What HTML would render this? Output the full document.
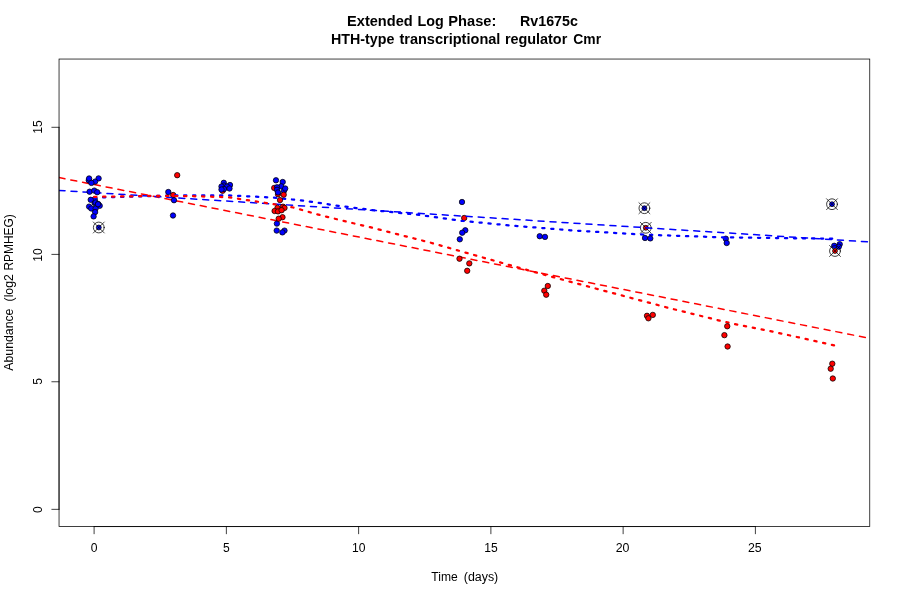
<!DOCTYPE html>
<html><head><meta charset="utf-8"><title>Extended Log Phase: Rv1675c</title>
<style>
html,body{margin:0;padding:0;background:#fff;}
body{width:900px;height:600px;overflow:hidden;}
svg{display:block;font-family:"Liberation Sans",Arial,Helvetica,sans-serif;}
.ax{font-size:12px;fill:#000;}
.tt{font-size:14.4px;font-weight:bold;fill:#000;}
.b{fill:#0000ff;stroke:#000;stroke-width:0.75;}
.r{fill:#ff0000;stroke:#000;stroke-width:0.75;}
.ln{fill:none;stroke:#000;stroke-width:0.75;stroke-linecap:round;}
</style></head><body>
<svg width="900" height="600" viewBox="0 0 900 600">
<rect width="900" height="600" fill="#fff"/>

<defs><clipPath id="cp"><rect x="59.04" y="59.04" width="810.72" height="467.5199999999999"/></clipPath></defs>
<g>
<circle class="b" cx="98.8" cy="227.5" r="2.45"/>
<circle class="ln" cx="98.8" cy="227.5" r="5.4"/>
<path class="ln" style="stroke-width:0.7" d="M93.30,222.00L104.30,233.00M93.30,233.00L104.30,222.00"/>
<circle class="b" cx="644.4" cy="208.2" r="2.45"/>
<circle class="ln" cx="644.4" cy="208.2" r="5.4"/>
<path class="ln" style="stroke-width:0.7" d="M638.90,202.70L649.90,213.70M638.90,213.70L649.90,202.70"/>
<circle class="r" cx="645.8" cy="227.8" r="2.45"/>
<circle class="ln" cx="645.8" cy="227.8" r="5.4"/>
<path class="ln" style="stroke-width:0.7" d="M640.30,222.30L651.30,233.30M640.30,233.30L651.30,222.30"/>
<circle class="b" cx="832" cy="204.2" r="2.45"/>
<circle class="ln" cx="832" cy="204.2" r="5.4"/>
<path class="ln" style="stroke-width:0.7" d="M826.50,198.70L837.50,209.70M826.50,209.70L837.50,198.70"/>
<circle class="b" cx="94.6" cy="203" r="2.7"/>
<circle class="b" cx="94.75" cy="199.3" r="2.7"/>
<circle class="b" cx="725.8" cy="238.7" r="2.7"/>
<circle class="r" cx="173.2" cy="195" r="2.7"/>
<circle class="r" cx="464.2" cy="218" r="2.7"/>
</g>
<g clip-path="url(#cp)" fill="none" stroke-linecap="round" stroke-linejoin="round">
<path d="M59.04,177.57L869.76,338.33" stroke="#ff0000" stroke-width="1.5" stroke-dasharray="6 6"/>
<path d="M59.04,190.39L869.76,242.00" stroke="#0000ff" stroke-width="1.5" stroke-dasharray="6 6"/>
<polyline points="94.1,197.6 130.0,196.7 180.0,195.3 228.3,195.4 271.7,197.5 305.0,200.8 338.3,205.8 373.3,210.2 420.0,215.0 461.7,220.8 505.0,225.0 570.0,230.3 645.0,234.7 718.3,237.2 770.0,238.0 832.5,238.7" stroke="#0000ff" stroke-width="2.25" stroke-dasharray="2.25 6.75"/>
<polyline points="94.1,196.9 130.0,196.3 158.0,195.8 197.0,196.3 228.0,197.2 268.3,203.3 293.3,207.5 316.7,214.2 346.7,221.7 370.0,227.2 430.0,242.5 480.0,256.7 530.0,270.8 570.0,281.7 620.0,295.0 670.0,308.3 690.0,313.2 718.3,320.3 735.0,324.2 770.0,331.0 806.7,339.2 834.5,345.4" stroke="#ff0000" stroke-width="2.25" stroke-dasharray="2.25 6.75"/>
</g>
<g>
<circle class="r" cx="274.2" cy="187.9" r="2.7"/>
<circle class="r" cx="278" cy="194.2" r="2.7"/>
<circle class="r" cx="222.6" cy="190.8" r="2.7"/>
<circle class="b" cx="88.75" cy="180.3" r="2.7"/>
<circle class="b" cx="89.1" cy="178.5" r="2.7"/>
<circle class="b" cx="98.6" cy="178.4" r="2.7"/>
<circle class="b" cx="95.1" cy="181.6" r="2.7"/>
<circle class="b" cx="91.4" cy="182.9" r="2.7"/>
<circle class="b" cx="89.6" cy="191.7" r="2.7"/>
<circle class="b" cx="94.3" cy="190.6" r="2.7"/>
<circle class="b" cx="97.2" cy="192.2" r="2.7"/>
<circle class="b" cx="90.7" cy="199.8" r="2.7"/>
<circle class="b" cx="95.6" cy="202.5" r="2.7"/>
<circle class="b" cx="98.3" cy="204.1" r="2.7"/>
<circle class="b" cx="99.7" cy="205.8" r="2.7"/>
<circle class="b" cx="89.1" cy="206.6" r="2.7"/>
<circle class="b" cx="91.3" cy="208.5" r="2.7"/>
<circle class="b" cx="95.6" cy="208.5" r="2.7"/>
<circle class="b" cx="95.1" cy="212.1" r="2.7"/>
<circle class="b" cx="93.6" cy="216.4" r="2.7"/>
<circle class="b" cx="98" cy="204.2" r="2.7"/>
<circle class="b" cx="168.3" cy="192" r="2.7"/>
<circle class="b" cx="174" cy="200.2" r="2.7"/>
<circle class="b" cx="173" cy="215.5" r="2.7"/>
<circle class="b" cx="223.8" cy="182.8" r="2.7"/>
<circle class="b" cx="230" cy="185" r="2.7"/>
<circle class="b" cx="224" cy="185.5" r="2.7"/>
<circle class="b" cx="221.5" cy="186.5" r="2.7"/>
<circle class="b" cx="227" cy="186.5" r="2.7"/>
<circle class="b" cx="229.5" cy="188.5" r="2.7"/>
<circle class="b" cx="224" cy="189" r="2.7"/>
<circle class="b" cx="221.5" cy="189.5" r="2.7"/>
<circle class="b" cx="276" cy="180.3" r="2.7"/>
<circle class="b" cx="282.7" cy="182" r="2.7"/>
<circle class="b" cx="281.2" cy="186.3" r="2.7"/>
<circle class="b" cx="277" cy="187.3" r="2.7"/>
<circle class="b" cx="277" cy="189.8" r="2.7"/>
<circle class="b" cx="284" cy="190.8" r="2.7"/>
<circle class="b" cx="285.2" cy="188.5" r="2.7"/>
<circle class="b" cx="278" cy="192.4" r="2.7"/>
<circle class="b" cx="276.9" cy="223.6" r="2.7"/>
<circle class="b" cx="276.7" cy="230.6" r="2.7"/>
<circle class="b" cx="284.5" cy="230.6" r="2.7"/>
<circle class="b" cx="282.4" cy="232.4" r="2.7"/>
<circle class="b" cx="462" cy="202" r="2.7"/>
<circle class="b" cx="465.3" cy="230.3" r="2.7"/>
<circle class="b" cx="462.2" cy="232.7" r="2.7"/>
<circle class="b" cx="459.8" cy="239.3" r="2.7"/>
<circle class="b" cx="539.7" cy="236.2" r="2.7"/>
<circle class="b" cx="545" cy="236.9" r="2.7"/>
<circle class="b" cx="645" cy="238" r="2.7"/>
<circle class="b" cx="650.3" cy="238.4" r="2.7"/>
<circle class="b" cx="726.7" cy="243" r="2.7"/>
<circle class="b" cx="839.7" cy="244.2" r="2.7"/>
<circle class="b" cx="838.8" cy="246.7" r="2.7"/>
<circle class="b" cx="834.2" cy="245.8" r="2.7"/>
<circle class="r" cx="835" cy="251" r="2.45"/>
<circle class="ln" cx="835" cy="251" r="5.4"/>
<path class="ln" style="stroke-width:0.7" d="M829.50,245.50L840.50,256.50M829.50,256.50L840.50,245.50"/>
<circle class="r" cx="177.2" cy="175.2" r="2.7"/>
<circle class="r" cx="283.7" cy="194.7" r="2.7"/>
<circle class="r" cx="280" cy="200.1" r="2.7"/>
<circle class="r" cx="283" cy="206.7" r="2.7"/>
<circle class="r" cx="284.5" cy="207.9" r="2.7"/>
<circle class="r" cx="277.5" cy="207.9" r="2.7"/>
<circle class="r" cx="274.6" cy="211" r="2.7"/>
<circle class="r" cx="278" cy="211.4" r="2.7"/>
<circle class="r" cx="281.6" cy="210.2" r="2.7"/>
<circle class="r" cx="282.5" cy="217.2" r="2.7"/>
<circle class="r" cx="278.7" cy="218.7" r="2.7"/>
<circle class="r" cx="459.5" cy="258.7" r="2.7"/>
<circle class="r" cx="469.3" cy="263.4" r="2.7"/>
<circle class="r" cx="467.2" cy="270.8" r="2.7"/>
<circle class="r" cx="547.8" cy="286" r="2.7"/>
<circle class="r" cx="544.3" cy="290.7" r="2.7"/>
<circle class="r" cx="546.2" cy="294.7" r="2.7"/>
<circle class="r" cx="652.8" cy="314.9" r="2.7"/>
<circle class="r" cx="647" cy="315.8" r="2.7"/>
<circle class="r" cx="648.4" cy="318.3" r="2.7"/>
<circle class="r" cx="727.25" cy="326.25" r="2.7"/>
<circle class="r" cx="724.4" cy="335.15" r="2.7"/>
<circle class="r" cx="727.6" cy="346.5" r="2.7"/>
<circle class="r" cx="832.3" cy="363.7" r="2.7"/>
<circle class="r" cx="830.7" cy="368.7" r="2.7"/>
<circle class="r" cx="832.8" cy="378.5" r="2.7"/>
</g>
<g class="ln">
<path d="M94.10,526.56L755.40,526.56"/>
<path d="M94.10,526.56L94.10,533.76"/>
<path d="M226.36,526.56L226.36,533.76"/>
<path d="M358.62,526.56L358.62,533.76"/>
<path d="M490.88,526.56L490.88,533.76"/>
<path d="M623.14,526.56L623.14,533.76"/>
<path d="M755.40,526.56L755.40,533.76"/>
<path d="M59.04,509.35L59.04,127.30"/>
<path d="M59.04,509.35L51.84,509.35"/>
<path d="M59.04,381.75L51.84,381.75"/>
<path d="M59.04,254.40L51.84,254.40"/>
<path d="M59.04,127.30L51.84,127.30"/>
<rect x="59.04" y="59.04" width="810.72" height="467.52"/>
</g>
<text class="ax" transform="translate(94.20,551.8) scale(1.01,1.035)" text-anchor="middle">0</text>
<text class="ax" transform="translate(226.46,551.8) scale(1.01,1.035)" text-anchor="middle">5</text>
<text class="ax" transform="translate(358.72,551.8) scale(1.01,1.035)" text-anchor="middle">10</text>
<text class="ax" transform="translate(490.98,551.8) scale(1.01,1.035)" text-anchor="middle">15</text>
<text class="ax" transform="translate(622.54,551.8) scale(1.03,1.035)" text-anchor="middle">20</text>
<text class="ax" transform="translate(754.80,551.8) scale(1.03,1.035)" text-anchor="middle">25</text>
<text class="ax" transform="translate(41.9,509.70) rotate(-90) scale(1.01,1.035)" text-anchor="middle">0</text>
<text class="ax" transform="translate(41.9,381.40) rotate(-90) scale(1.01,1.035)" text-anchor="middle">5</text>
<text class="ax" transform="translate(41.9,254.90) rotate(-90) scale(1.01,1.035)" text-anchor="middle">10</text>
<text class="ax" transform="translate(41.9,127.00) rotate(-90) scale(1.01,1.035)" text-anchor="middle">15</text>
<text class="ax" transform="translate(431.30,580.9) scale(1.0078,1.035)">Time</text>
<text class="ax" transform="translate(463.78,580.9) scale(1.0345,1.035)">(days)</text>
<text class="ax" transform="translate(12.9,370.70) rotate(-90) scale(1.0249,1.035)">Abundance</text>
<text class="ax" transform="translate(12.9,301.41) rotate(-90) scale(1.0197,1.035)">(log2</text>
<text class="ax" transform="translate(12.9,270.60) rotate(-90) scale(0.9946,1.035)">RPMHEG)</text>
<text class="tt" transform="translate(347.09,25.7) scale(1.0127,1.035)">Extended</text>
<text class="tt" transform="translate(417.40,25.7) scale(0.9959,1.035)">Log</text>
<text class="tt" transform="translate(448.28,25.7) scale(1.0178,1.035)">Phase:</text>
<text class="tt" transform="translate(520.01,25.7) scale(0.9895,1.035)">Rv1675c</text>
<text class="tt" transform="translate(330.91,43.5) scale(0.9920,1.035)">HTH-type</text>
<text class="tt" transform="translate(399.40,43.5) scale(1.0101,1.035)">transcriptional</text>
<text class="tt" transform="translate(504.90,43.5) scale(1.0000,1.035)">regulator</text>
<text class="tt" transform="translate(573.32,43.5) scale(0.9644,1.035)">Cmr</text>
</svg></body></html>
